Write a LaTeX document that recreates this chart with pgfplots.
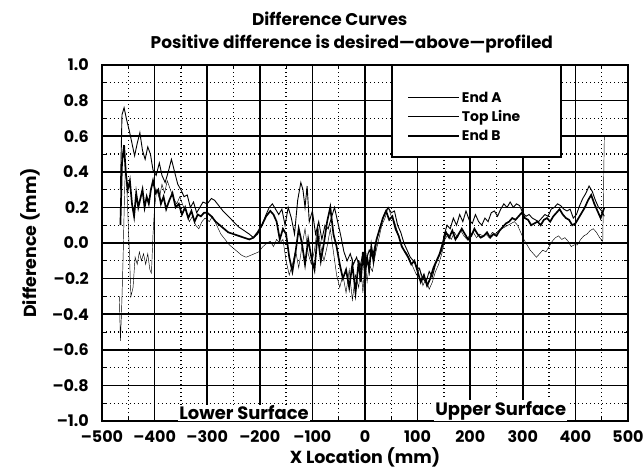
\documentclass[border=0pt]{standalone}
\usepackage{fontspec}
\setmainfont{Poppins}
\usepackage{pgfplots}
\pgfplotsset{compat=1.18}

\begin{document}
\begin{tikzpicture}[font=\bfseries\fontsize{16}{19}\selectfont]
\begin{axis}[
  scale only axis, width=526bp, height=356bp,
  clip mode=individual,
  xmin=-500, xmax=500, ymin=-1, ymax=1,
  xtick={-500,-400,-300,-200,-100,0,100,200,300,400,500},
  ytick={-1,-0.8,-0.6,-0.4,-0.2,0,0.2,0.4,0.6,0.8,1},
  xticklabels={–500,–400,–300,–200,–100,0,100,200,300,400,500},
  yticklabels={–1.0,–0.8,–0.6,–0.4,–0.2,0.0,0.2,0.4,0.6,0.8,1.0},
  minor x tick num=1, minor y tick num=1,
  grid=both,
  major grid style={black, line width=1.7pt},
  minor grid style={black, line width=1.4pt, dash pattern=on 1.4bp off 2.6bp},
  axis line style={line width=1.8pt},
  tick style={black, line width=0.8pt},
  major tick length=0pt, minor tick length=4bp,
  xticklabel style={anchor=north, inner sep=0pt, yshift=-9bp},
  yticklabel style={anchor=east, inner sep=0pt, xshift=-13bp},
  xlabel={X Location (mm)},
  ylabel={Difference (mm)},
  label style={font=\bfseries\fontsize{17.5}{20}\selectfont},
  xlabel style={at={(axis description cs:0.5,-0.103)}, anchor=center},
  ylabel style={at={(axis description cs:-0.137,0.5)}, anchor=center},
  legend cell align=left,
  legend image code/.code={\draw[#1] (0bp,0bp) -- (51bp,0bp);},
  legend style={at={(0.58,0.931)}, anchor=north west, draw=none, fill=none,
    inner sep=0pt, row sep=3bp, font=\bfseries\fontsize{14}{16}\selectfont,
    /tikz/every even column/.append style={column sep=25bp}},
]
\coordinate (bl) at (rel axis cs:0,0);
\addplot[black, line width=0.45pt] coordinates {
(-467,-0.30) (-465,-0.55) (-463,-0.40) (-460,-0.10) (-457,0.30) (-455,0.45)
(-452,0.25) (-448,-0.05) (-445,-0.30) (-441,-0.25) (-437,-0.08) (-433,-0.12)
(-429,-0.05) (-425,-0.10) (-421,-0.06) (-417,-0.12) (-413,-0.06) (-409,-0.15)
(-406,-0.17) (-403,0.05) (-400,0.20) (-396,0.30) (-391,0.25) (-386,0.33)
(-381,0.28) (-376,0.35) (-370,0.30) (-364,0.25) (-358,0.22) (-352,0.26)
(-346,0.21) (-340,0.18) (-334,0.12) (-328,0.15) (-322,0.10) (-316,0.08)
(-310,0.12) (-304,0.14) (-296,0.12) (-290,0.15) (-282,0.10) (-274,0.05)
(-266,0.02) (-258,-0.01) (-250,-0.03) (-242,-0.05) (-234,-0.07) (-226,-0.08)
(-218,-0.07) (-210,-0.06) (-202,-0.05) (-194,-0.02) (-186,0.00) (-180,0.01)
(-174,-0.02) (-168,0.02) (-162,0.00) (-156,0.02) (-150,-0.10) (-144,-0.18)
(-138,-0.12) (-132,-0.04) (-126,-0.14) (-120,-0.02) (-114,0.08) (-108,-0.06)
(-102,-0.12) (-96,-0.04) (-90,0.10) (-84,-0.02) (-78,-0.10) (-72,-0.02)
(-66,0.08) (-60,-0.05) (-54,-0.18) (-48,-0.25) (-42,-0.18) (-36,-0.28)
(-30,-0.15) (-24,-0.32) (-18,-0.18) (-12,-0.25) (-8,-0.12) (-4,-0.28)
(0,-0.10) (4,-0.22) (8,-0.12) (14,-0.16) (20,-0.06) (26,0.02)
(32,0.10) (38,0.14) (44,0.20) (50,0.15) (56,0.12) (62,0.06)
(68,0.00) (74,-0.04) (80,-0.06) (86,-0.10) (92,-0.14) (98,-0.18)
(104,-0.14) (110,-0.24) (116,-0.20) (122,-0.26) (128,-0.22) (134,-0.16)
(140,-0.12) (146,-0.06) (152,0.02) (158,0.05) (164,0.02) (170,0.06)
(176,0.03) (182,0.07) (188,0.04) (194,0.02) (200,0.05) (206,0.06)
(212,0.03) (218,0.05) (224,0.04) (230,0.05) (236,0.03) (242,0.06)
(248,0.05) (254,0.07) (260,0.08) (266,0.09) (272,0.10) (278,0.11)
(284,0.12) (290,0.10) (296,0.06) (302,0.02) (308,-0.01) (314,-0.04)
(320,-0.06) (326,-0.08) (332,-0.06) (338,-0.04) (344,-0.05) (350,-0.02)
(356,0.01) (362,0.03) (368,0.04) (374,0.02) (380,0.03) (386,0.01)
(392,-0.02) (398,-0.01) (404,-0.01) (410,0.02) (416,0.04) (422,0.05)
(428,0.07) (434,0.08) (440,0.06) (446,0.03) (452,0.01) (455,0.60)
};
\addlegendentry{End A}
\addplot[black, line width=0.9pt] coordinates {
(-465,0.30) (-462,0.72) (-458,0.76) (-453,0.69) (-448,0.63) (-443,0.56)
(-438,0.49) (-433,0.56) (-428,0.62) (-423,0.52) (-418,0.47) (-413,0.54)
(-408,0.50) (-403,0.41) (-397,0.38) (-391,0.45) (-386,0.38) (-380,0.34)
(-374,0.40) (-368,0.47) (-362,0.40) (-356,0.33) (-350,0.30) (-344,0.26)
(-338,0.27) (-332,0.20) (-326,0.23) (-320,0.17) (-314,0.20) (-308,0.23)
(-300,0.22) (-292,0.25) (-286,0.24) (-278,0.21) (-270,0.18) (-260,0.15)
(-250,0.12) (-240,0.09) (-230,0.07) (-220,0.05) (-212,0.03) (-204,0.05)
(-196,0.10) (-188,0.16) (-182,0.20) (-176,0.22) (-170,0.19) (-164,0.16)
(-158,0.19) (-152,0.10) (-146,0.20) (-140,0.14) (-134,0.05) (-128,0.24)
(-122,0.34) (-118,0.30) (-114,0.20) (-110,0.32) (-106,0.12) (-100,0.18)
(-94,0.05) (-88,0.12) (-82,0.02) (-76,0.10) (-70,0.08) (-64,0.14)
(-58,0.20) (-52,0.12) (-46,0.04) (-40,-0.05) (-34,-0.10) (-28,-0.06)
(-22,-0.12) (-16,-0.08) (-10,-0.14) (-4,-0.06) (2,-0.10) (8,-0.04)
(14,-0.08) (20,0.00) (26,0.06) (32,0.12) (38,0.17) (44,0.20)
(50,0.17) (56,0.18) (62,0.10) (68,0.06) (74,0.00) (80,-0.04)
(86,-0.08) (92,-0.10) (98,-0.13) (104,-0.15) (110,-0.20) (116,-0.22)
(122,-0.16) (128,-0.19) (134,-0.12) (140,-0.08) (146,-0.04) (150,0.04)
(156,0.10) (162,0.08) (168,0.14) (174,0.10) (180,0.16) (186,0.12)
(192,0.18) (198,0.13) (204,0.11) (210,0.16) (216,0.12) (222,0.10)
(228,0.14) (234,0.12) (240,0.17) (246,0.18) (252,0.15) (258,0.19)
(264,0.22) (270,0.20) (276,0.23) (282,0.20) (288,0.22) (294,0.21)
(300,0.17) (306,0.15) (312,0.16) (318,0.14) (324,0.13) (330,0.12)
(336,0.14) (342,0.16) (348,0.15) (354,0.19) (360,0.20) (366,0.22)
(372,0.21) (378,0.19) (384,0.18) (390,0.19) (396,0.14) (402,0.16)
(408,0.21) (414,0.25) (420,0.28) (426,0.32) (432,0.29) (438,0.24)
(444,0.20) (450,0.18) (455,0.15)
};
\addlegendentry{Top Line}
\addplot[black, line width=1.7pt] coordinates {
(-465,0.10) (-462,0.45) (-458,0.55) (-455,0.40) (-451,0.30) (-447,0.35)
(-443,0.22) (-439,0.15) (-435,0.28) (-431,0.20) (-427,0.25) (-423,0.30)
(-419,0.20) (-415,0.26) (-411,0.22) (-407,0.30) (-403,0.35) (-398,0.28)
(-393,0.30) (-388,0.22) (-383,0.26) (-378,0.19) (-372,0.24) (-366,0.28)
(-360,0.20) (-354,0.22) (-348,0.16) (-342,0.20) (-336,0.14) (-330,0.18)
(-324,0.12) (-318,0.16) (-312,0.15) (-306,0.17) (-300,0.17) (-292,0.15)
(-284,0.12) (-276,0.10) (-268,0.08) (-260,0.06) (-250,0.05) (-240,0.04)
(-230,0.03) (-220,0.02) (-212,0.03) (-204,0.06) (-196,0.10) (-188,0.15)
(-180,0.18) (-174,0.16) (-168,0.12) (-162,0.02) (-156,0.08) (-150,0.05)
(-144,-0.08) (-138,-0.16) (-132,-0.05) (-126,0.08) (-120,0.00) (-114,-0.12)
(-108,0.02) (-102,-0.08) (-96,-0.15) (-90,0.05) (-84,-0.10) (-78,0.00)
(-72,0.12) (-66,0.20) (-60,0.05) (-54,-0.02) (-48,-0.12) (-42,-0.20)
(-36,-0.15) (-30,-0.25) (-24,-0.12) (-18,-0.28) (-12,-0.10) (-8,-0.22)
(-4,-0.05) (0,-0.18) (4,-0.08) (8,-0.15) (12,-0.02) (16,-0.10)
(22,0.02) (28,0.08) (34,0.14) (40,0.18) (46,0.13) (52,0.15)
(58,0.08) (64,0.04) (70,-0.02) (76,-0.05) (82,-0.08) (88,-0.12)
(94,-0.10) (100,-0.16) (106,-0.22) (112,-0.18) (118,-0.24) (124,-0.20)
(130,-0.14) (136,-0.10) (142,-0.06) (148,0.00) (154,0.06) (160,0.03)
(166,0.07) (172,0.02) (178,0.05) (184,0.08) (190,0.05) (196,0.02)
(202,0.04) (208,0.08) (214,0.05) (220,0.03) (226,0.04) (232,0.06)
(238,0.03) (244,0.05) (250,0.04) (256,0.07) (262,0.09) (268,0.11)
(274,0.12) (280,0.14) (286,0.13) (292,0.15) (298,0.17) (304,0.14)
(310,0.13) (316,0.10) (322,0.11) (328,0.12) (334,0.10) (340,0.13)
(346,0.14) (352,0.12) (358,0.15) (364,0.17) (370,0.19) (376,0.16)
(382,0.14) (388,0.13) (394,0.10) (400,0.11) (406,0.14) (412,0.17)
(418,0.20) (424,0.24) (430,0.27) (436,0.22) (442,0.18) (448,0.14)
(455,0.20)
};
\addlegendentry{End B}
\draw[black, line width=1.7pt, fill=white] (rel axis cs:0.551,1) rectangle (rel axis cs:0.873,0.742);
\node[fill=white, inner sep=1bp, anchor=south, font=\bfseries\fontsize{18}{20}\selectfont] at (axis cs:-230,-1) {Lower Surface};
\node[fill=white, inner sep=1bp, anchor=south, font=\bfseries\fontsize{18}{20}\selectfont] at (axis cs:258,-1) {Upper Surface};
\node[anchor=base, font=\bfseries\fontsize{17}{20}\selectfont] at (rel axis cs:0.433,1.112) {Difference Curves};
\node[anchor=base, font=\bfseries\fontsize{17}{20}\selectfont] at (rel axis cs:0.475,1.045) {Positive difference is desired—above—profiled};
\end{axis}
\pgfresetboundingbox
\path (bl) ++(-102bp,-51bp) rectangle ++(644bp,472bp);
\end{tikzpicture}
\end{document}
